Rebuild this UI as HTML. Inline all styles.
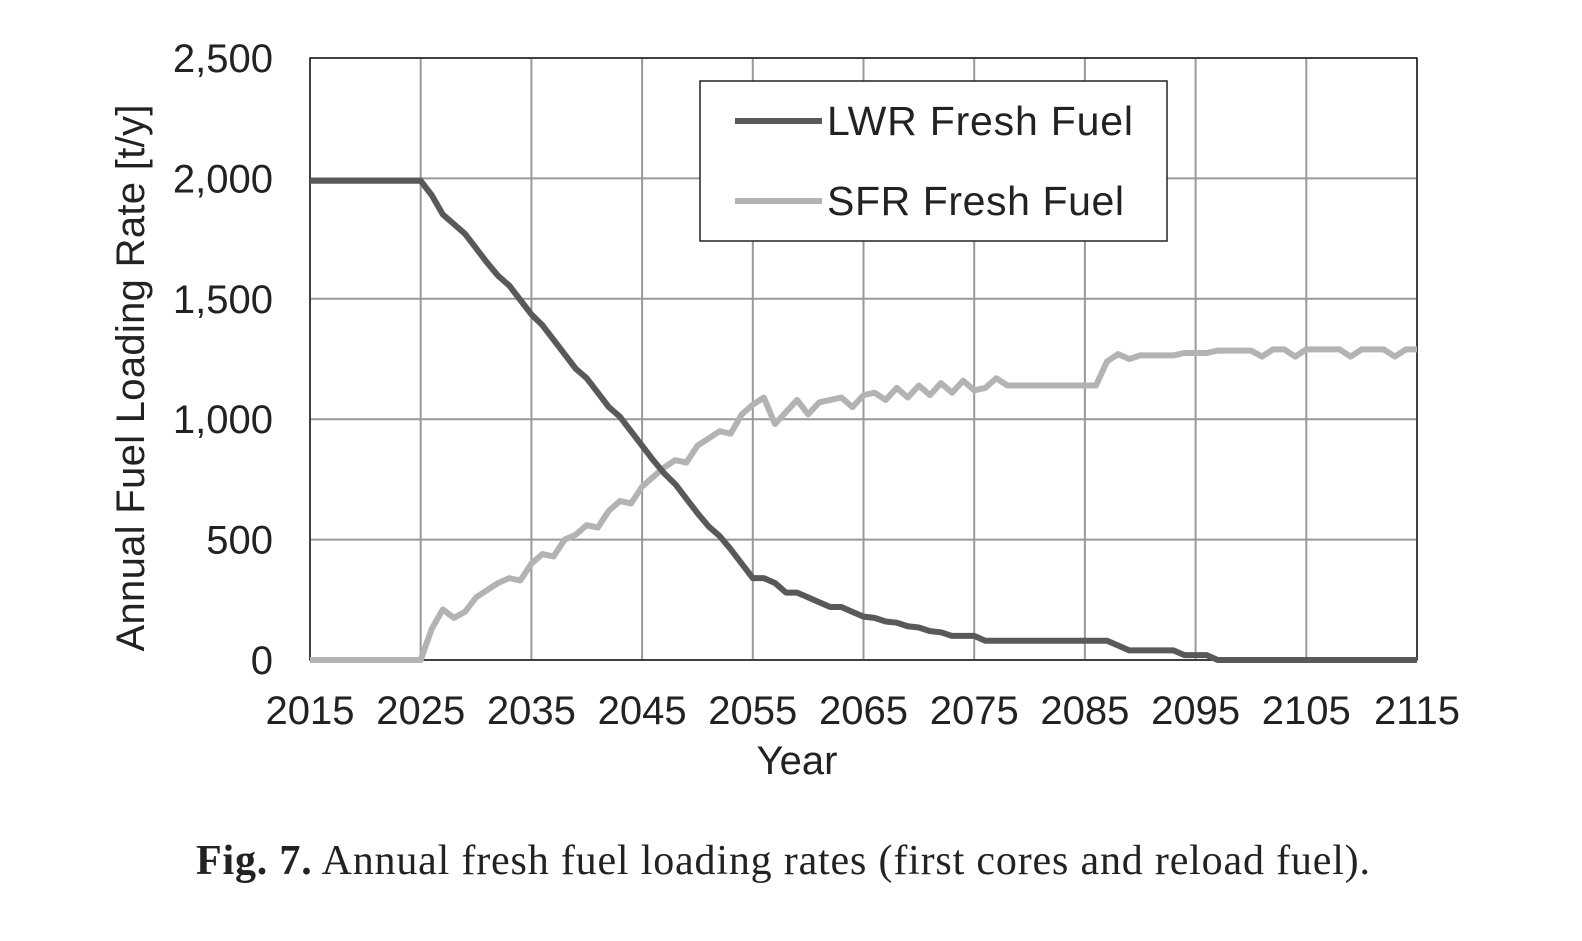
<!DOCTYPE html>
<html><head><meta charset="utf-8"><style>
body{margin:0;background:#fff}
svg text{font-family:"Liberation Sans",Arial,sans-serif;fill:#222}
</style></head><body>
<svg id="c" width="1582" height="936" viewBox="0 0 1582 936">
<g id="grid"></g>
<g id="lines"></g>
<g id="labels"></g>
<g>
<rect x="700" y="81" width="467" height="160" fill="#fff" stroke="#222" stroke-width="1.5"/>
<line x1="735" y1="121" x2="822" y2="121" stroke="#595959" stroke-width="6"/>
<text x="827" y="135" font-size="41" textLength="306">LWR Fresh Fuel</text>
<line x1="735" y1="201" x2="822" y2="201" stroke="#b3b3b3" stroke-width="6"/>
<text x="827" y="215" font-size="41" textLength="297">SFR Fresh Fuel</text>
</g>
<text x="797" y="774" font-size="40" text-anchor="middle">Year</text>
<text transform="translate(144,378) rotate(-90)" font-size="40" text-anchor="middle" textLength="547">Annual Fuel Loading Rate [t/y]</text>
<text x="196" y="874" font-size="42" textLength="1174" style="font-family:'Liberation Serif',serif"><tspan font-weight="bold">Fig. 7.</tspan>  Annual fresh fuel loading rates (first cores and reload fuel).</text>
</svg>
<script>
const lwr=[1990,1990,1990,1990,1990,1990,1990,1990,1990,1990,1990,1930,1850,1810,1770,1710,1650,1595,1555,1495,1435,1390,1330,1270,1210,1170,1110,1050,1010,950,890,830,775,730,670,610,555,515,460,400,340,340,320,280,280,260,240,220,220,200,180,175,160,155,140,135,120,115,100,100,100,80,80,80,80,80,80,80,80,80,80,80,80,60,40,40,40,40,40,20,20,20,0,0,0,0,0,0,0,0,0,0,0,0,0,0,0,0,0,0,0];
const sfr=[0,0,0,0,0,0,0,0,0,0,0,130,210,175,200,260,290,320,340,330,400,440,430,500,520,560,550,620,660,650,720,760,800,830,820,890,920,950,940,1020,1060,1090,980,1030,1080,1020,1070,1080,1090,1050,1100,1110,1080,1130,1090,1140,1100,1150,1110,1160,1120,1130,1170,1140,1140,1140,1140,1140,1140,1140,1140,1140,1240,1270,1250,1265,1265,1265,1265,1275,1275,1275,1285,1285,1285,1285,1260,1290,1290,1260,1290,1290,1290,1290,1260,1290,1290,1290,1260,1290,1290];
const yTicks=[0,500,1000,1500,2000,2500];
const xTicks=[2015,2025,2035,2045,2055,2065,2075,2085,2095,2105,2115];
const X0=310,X1=1417,Y0=660,Y1=58;
const xs=yr=>X0+(yr-2015)/100*(X1-X0);
const ys=v=>Y0-v/2500*(Y0-Y1);
const NS='http://www.w3.org/2000/svg';
function mk(t,a,p){const e=document.createElementNS(NS,t);for(const k in a)e.setAttribute(k,a[k]);p.appendChild(e);return e;}
const g=document.getElementById('grid'),L=document.getElementById('labels'),ln=document.getElementById('lines');
yTicks.forEach(v=>{
 const l=mk('line',{x1:X0,x2:X1,y1:ys(v),y2:ys(v),stroke:'#999','stroke-width':2},g);
 
 
 const t=mk('text',{x:273,y:ys(v)+14,'font-size':40,'text-anchor':'end'},L);t.textContent=v.toLocaleString('en-US');
 
 
});
xTicks.forEach(v=>{
 const l=mk('line',{x1:xs(v),x2:xs(v),y1:Y1,y2:Y0,stroke:'#999','stroke-width':2},g);
 
 
 const t=mk('text',{x:xs(v),y:724,'font-size':40,'text-anchor':'middle'},L);t.textContent=v;
 
 
});
const fr=mk('rect',{x:X0,y:Y1,width:X1-X0,height:Y0-Y1,fill:'none',stroke:'#222','stroke-width':1.5},g);


function series(d,c,n){
 const p=mk('polyline',{points:d.map((v,i)=>xs(2015+i)+','+ys(v)).join(' '),fill:'none',stroke:c,'stroke-width':6,'stroke-linejoin':'round'},ln);
 
 
}
series(sfr,'#b3b3b3','sfr-line');
series(lwr,'#595959','lwr-line');
</script>
</body></html>
